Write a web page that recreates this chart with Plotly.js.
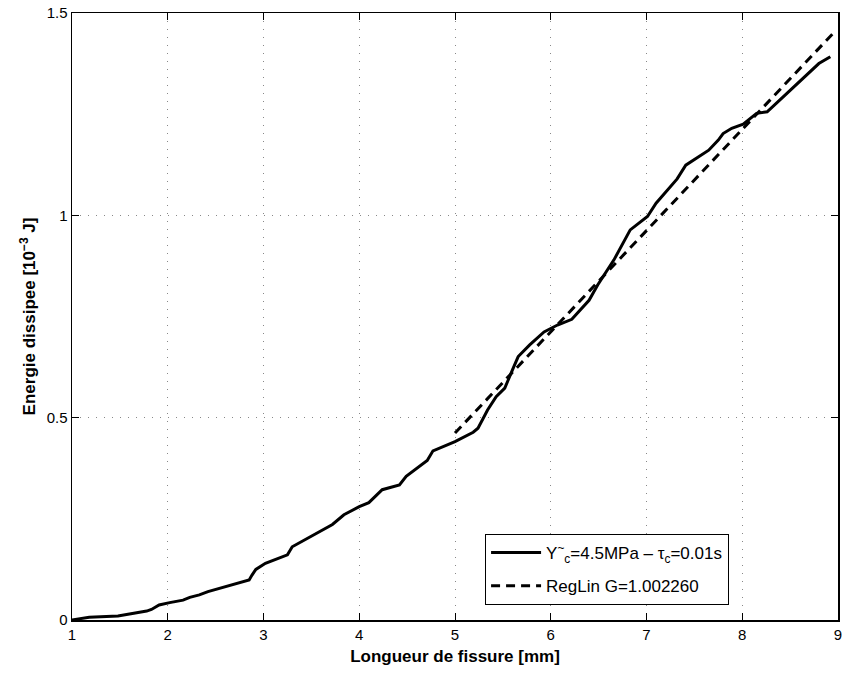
<!DOCTYPE html>
<html>
<head>
<meta charset="utf-8">
<script src="https://cdn.plot.ly/plotly-3.0.1.min.js"></script>
<style>html,body{margin:0;padding:0;background:#fff;}#chart{width:845px;height:675px;}</style>
</head>
<body>
<div id="chart"></div>
<script>
const crackLength = [1, 1.18, 1.48, 1.78, 1.83, 1.91, 2.02, 2.16, 2.23, 2.33, 2.42, 2.54, 2.68, 2.85, 2.88, 2.92, 3.02, 3.13, 3.25, 3.30, 3.44, 3.60, 3.72, 3.84, 4.0, 4.10, 4.24, 4.42, 4.49, 4.71, 4.77, 5.0, 5.19, 5.24, 5.34, 5.43, 5.52, 5.60, 5.66, 5.78, 5.93, 6.07, 6.22, 6.40, 6.49, 6.66, 6.73, 6.83, 7.01, 7.10, 7.32, 7.41, 7.65, 7.75, 7.80, 7.89, 8.01, 8.15, 8.26, 8.39, 8.62, 8.80, 8.92];
const energy = [0, 0.007, 0.01, 0.022, 0.026, 0.037, 0.043, 0.049, 0.056, 0.062, 0.07, 0.078, 0.089, 0.099, 0.111, 0.125, 0.14, 0.15, 0.161, 0.181, 0.2, 0.221, 0.236, 0.26, 0.28, 0.29, 0.322, 0.334, 0.355, 0.394, 0.418, 0.441, 0.464, 0.474, 0.519, 0.552, 0.573, 0.618, 0.651, 0.68, 0.712, 0.729, 0.743, 0.79, 0.828, 0.89, 0.922, 0.964, 0.997, 1.03, 1.09, 1.124, 1.161, 1.186, 1.202, 1.215, 1.225, 1.252, 1.256, 1.285, 1.334, 1.375, 1.392];
const regX = [5, 8.95];
const regY = [0.462, 1.45];
const xTicks = [1, 2, 3, 4, 5, 6, 7, 8, 9];
const yTicks = [0, 0.5, 1, 1.5];
const yTickLabels = ['0', '0.5', '1', '1.5'];
const seriesNames = ['Y<sup>~</sup><sub>c</sub>=4.5MPa – τ<sub>c</sub>=0.01s', 'RegLin G=1.002260'];

const traces = [
  {x: crackLength, y: energy, type: 'scatter', mode: 'lines', name: seriesNames[0], legendgroup: 'a',
   line: {color: '#000', width: 3}},
  {x: regX, y: regY, type: 'scatter', mode: 'lines', name: seriesNames[1], legendgroup: 'b',
   line: {color: '#000', width: 3, dash: '9px,6px'}}
];
const font = {family: '"Liberation Sans", Arial, Helvetica, sans-serif', color: '#000'};
const layout = {
  width: 845, height: 675,
  margin: {l: 72, r: 7, t: 13, b: 55},
  paper_bgcolor: '#fff', plot_bgcolor: '#fff',
  font: Object.assign({size: 15}, font),
  showlegend: true,
  legend: {x: 0.539, y: 0.025, xanchor: 'left', yanchor: 'bottom',
    bgcolor: '#fff', bordercolor: '#000', borderwidth: 1.2,
    font: Object.assign({size: 17}, font), traceorder: 'grouped', tracegroupgap: 8, itemwidth: 50},
  xaxis: {range: [1, 9], tickvals: xTicks, ticktext: xTicks.map(String),
    showline: true, mirror: 'ticks', linecolor: '#000', linewidth: 1.5,
    ticks: 'inside', ticklen: 7, tickcolor: '#000',
    showgrid: true, gridcolor: '#888', griddash: '1px,7px', gridwidth: 1,
    zeroline: false, tickfont: Object.assign({size: 15}, font),
    title: {text: '<b>Longueur de fissure [mm]</b>', font: Object.assign({size: 17}, font), standoff: 8}},
  yaxis: {range: [0, 1.5], tickvals: yTicks, ticktext: yTickLabels,
    showline: true, mirror: 'ticks', linecolor: '#000', linewidth: 1.5,
    ticks: 'inside', ticklen: 7, tickcolor: '#000',
    showgrid: true, gridcolor: '#888', griddash: '1px,7px', gridwidth: 1,
    zeroline: false, tickfont: Object.assign({size: 15}, font),
    title: {text: '<b>Energie dissipee [10<sup>−3</sup> J]</b>', font: Object.assign({size: 17}, font), standoff: 6}}
};
Plotly.newPlot('chart', traces, layout, {displayModeBar: false, staticPlot: true});
</script>
</body>
</html>
